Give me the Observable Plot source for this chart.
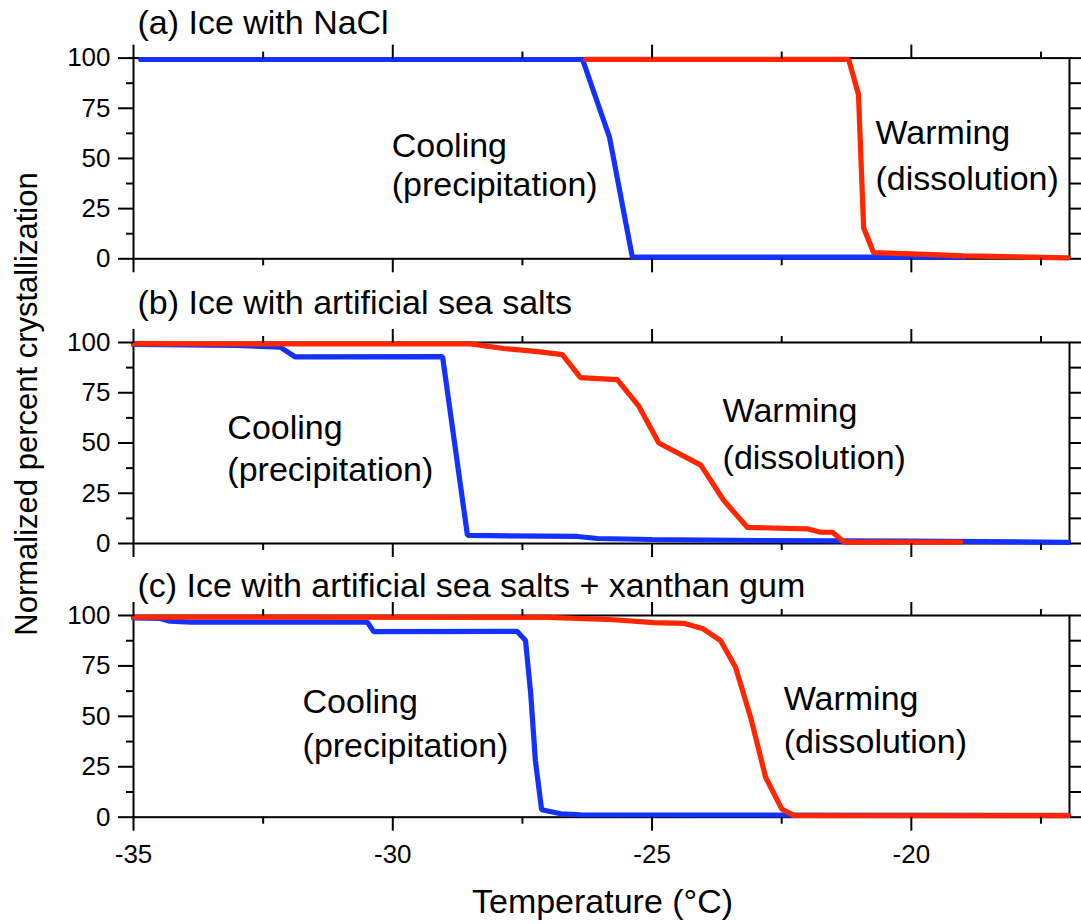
<!DOCTYPE html>
<html><head><meta charset="utf-8">
<script src="https://cdn.jsdelivr.net/npm/d3@7"></script>
<script src="https://cdn.jsdelivr.net/npm/@observablehq/plot@0.6"></script>
<style>
body{margin:0;background:#fff;font-family:"Liberation Sans",Arial,sans-serif;}
#wrap{position:relative;width:1081px;height:924px;overflow:hidden;background:#fff;}
#wrap svg{position:absolute;left:0;}
#ylab{position:absolute;left:26px;top:404px;transform:translate(-50%,-50%) rotate(-90deg);font-size:31px;line-height:31px;white-space:nowrap;color:#000;}
</style></head><body><div id="wrap"><div id="ylab">Normalized percent crystallization</div></div>
<script>
// ---- data ----
const titles = ["(a) Ice with NaCl", "(b) Ice with artificial sea salts", "(c) Ice with artificial sea salts + xanthan gum"];
const xLabel = "Temperature (°C)";
const yTicksMajor = [0, 25, 50, 75, 100];
const yTicksMinor = [12.5, 37.5, 62.5, 87.5];
const xTicksMajor = [-35, -30, -25, -20];
const xTicksMinor = [-32.5, -27.5, -22.5, -17.5];
const xDomain = [-35, -16.95];

// (a) NaCl
const coolA_T = [-34.86, -26.34, -25.82, -25.38, -19.0];
const coolA_V = [99.3, 99.3, 60.5, 0.8, 0.8];
const warmA_T = [-26.28, -21.21, -21.02, -20.92, -20.73, -20.0, -19.0, -16.97];
const warmA_V = [99.4, 99.4, 82, 15.5, 3.1, 2.5, 1.5, 0.5];

// (b) artificial sea salts
const coolB_T = [-35, -33.0, -32.17, -31.88, -29.04, -28.56, -26.44, -26.05, -25.0, -22.9, -20.0, -16.97];
const coolB_V = [99, 98.5, 97.7, 92.8, 93, 4, 3.5, 2.5, 2, 1.5, 1.2, 0.6];
const warmB_T = [-35, -28.5, -27.86, -27.2, -26.73, -26.38, -25.67, -25.26, -24.87, -24.06, -23.62, -23.16, -22.01, -21.75, -21.52, -21.30, -19.05];
const warmB_V = [99.4, 99.3, 97, 95.5, 94, 82.5, 81.5, 68.5, 50, 39, 21.5, 8, 7.3, 5.6, 5.6, 0.7, 0.7];

// (c) artificial sea salts + xanthan gum
const coolC_T = [-35, -34.48, -34.3, -33.9, -30.49, -30.37, -27.6, -27.44, -27.34, -27.25, -27.13, -26.76, -26.38, -16.97];
const coolC_V = [98.8, 98.5, 97.2, 96.7, 96.7, 92, 92.1, 87.6, 61.2, 28.1, 3.7, 1.7, 1.2, 0.9];
const warmC_T = [-35, -27.0, -25.74, -24.97, -24.39, -24.03, -23.68, -23.39, -23.1, -22.81, -22.5, -22.27, -16.97];
const warmC_V = [99.2, 99.1, 97.9, 96.5, 96.1, 93.6, 87.6, 74.3, 49.6, 19.8, 4.1, 0.9, 0.8];

// annotation labels
const noteText = ["Cooling", "(precipitation)", "Warming", "(dissolution)"];
const notesA_T = [-30.02, -30.02, -20.69, -20.69];
const notesA_V = [50.9, 31.4, 57.4, 34.4];
const notesB_T = [-33.19, -33.19, -23.64, -23.64];
const notesB_V = [52.2, 31.3, 60.2, 37.3];
const notesC_T = [-31.74, -31.74, -22.46, -22.46];
const notesC_V = [51.5, 29.7, 53, 31.7];

const BLUE = "#1432ff";
const RED = "#ff2600";
const FONT = '"Liberation Sans", Arial, sans-serif';

const zip = (T, V) => T.map((t, i) => ({t, v: V[i]}));
const notes = (T, V) => noteText.map((label, i) => ({label, t: T[i], v: V[i]}));

function panel({title, titleDy, cool, warm, note, top, inner, marginTop, marginBottom, showX}) {
  const height = marginTop + inner + marginBottom;
  const axOpts = {strokeWidth: 2, label: null};
  const marks = [
    Plot.frame({stroke: "black", strokeWidth: 2}),
    Plot.line(cool, {x: "t", y: "v", stroke: BLUE, strokeWidth: 5.2, strokeLinejoin: "miter"}),
    Plot.line(warm, {x: "t", y: "v", stroke: RED, strokeWidth: 5.2, strokeLinejoin: "miter"}),
    Plot.axisY({...axOpts, anchor: "left", ticks: yTicksMajor, tickSize: 15, tickPadding: 8, tickFormat: d => String(d), fontSize: 26, fill: "black"}),
    Plot.axisY({...axOpts, anchor: "left", ticks: yTicksMinor, tickSize: 7, fill: "none"}),
    Plot.axisY({...axOpts, anchor: "right", ticks: yTicksMajor.concat(yTicksMinor), tickSize: 12, fill: "none"}),
    Plot.axisX({...axOpts, anchor: "top", ticks: xTicksMajor, tickSize: 14, fill: "none"}),
    Plot.axisX({...axOpts, anchor: "top", ticks: xTicksMinor, tickSize: 7, fill: "none"}),
    Plot.axisX({...axOpts, anchor: "bottom", ticks: xTicksMajor, tickSize: 14, tickPadding: 13, tickFormat: d => String(d), fontSize: 26, fill: showX ? "black" : "none"}),
    Plot.axisX({...axOpts, anchor: "bottom", ticks: xTicksMinor, tickSize: 7, fill: "none"}),
    Plot.text(note, {x: "t", y: "v", text: "label", textAnchor: "start", lineAnchor: "bottom", fontSize: 34, fill: "black"}),
    Plot.text([title], {text: d => d, frameAnchor: "top-left", textAnchor: "start", lineAnchor: "bottom", dx: 4, dy: titleDy, fontSize: 34, fill: "black"})
  ];
  if (showX) {
    marks.push(Plot.text([xLabel], {text: d => d, frameAnchor: "bottom", textAnchor: "middle", lineAnchor: "bottom", dx: 1, dy: 96, fontSize: 34, fill: "black"}));
  }
  const svg = Plot.plot({
    width: 1081, height,
    marginLeft: 133, marginRight: 12, marginTop, marginBottom,
    style: {fontFamily: FONT, fontSize: "26px", color: "black", background: "transparent", overflow: "visible"},
    x: {domain: xDomain},
    y: {domain: [0, 100]},
    marks
  });
  svg.style.top = top + "px";
  document.getElementById("wrap").appendChild(svg);
}

panel({title: titles[0], titleDy: -24, cool: zip(coolA_T, coolA_V), warm: zip(warmA_T, warmA_V), note: notes(notesA_T, notesA_V), top: 0, inner: 200.7, marginTop: 57.6, marginBottom: 20, showX: false});
panel({title: titles[1], titleDy: -29, cool: zip(coolB_T, coolB_V), warm: zip(warmB_T, warmB_V), note: notes(notesB_T, notesB_V), top: 282, inner: 201, marginTop: 60, marginBottom: 20, showX: false});
panel({title: titles[2], titleDy: -18, cool: zip(coolC_T, coolC_V), warm: zip(warmC_T, warmC_V), note: notes(notesC_T, notesC_V), top: 555, inner: 201.7, marginTop: 60, marginBottom: 110, showX: true});
</script></body></html>
